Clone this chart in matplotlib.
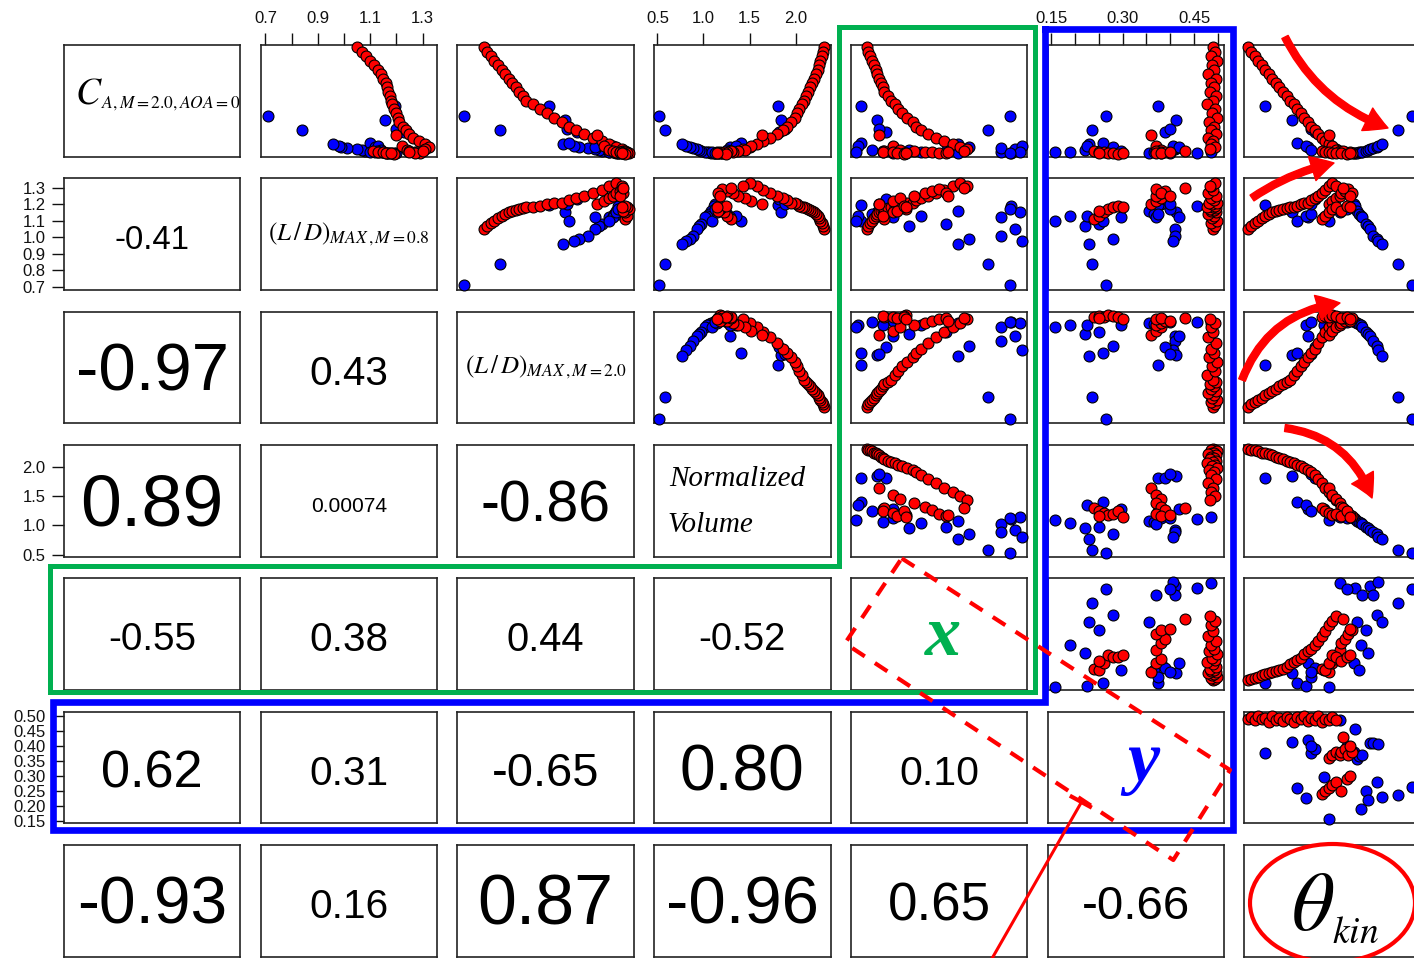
import matplotlib.pyplot as plt
from matplotlib.patches import Ellipse, FancyArrowPatch

plt.rcParams['font.family'] = ['Liberation Sans', 'DejaVu Sans']
plt.rcParams['mathtext.fontset'] = 'stix'

# ---- data ------------------------------------------------------------------
# CA, theta, LD20 and x have no axis in the picture: they are kept as panel
# fractions (0..1). LD08, volume and y are in their own units.

# red designs: main branch (y~0.49), then the y~0.38 group, then the y~0.27 group
red_theta = [.02, .04, .06, .08, .10, .12, .14, .16, .18, .20, .22, .24, .26,
             .28, .30, .32, .34, .36, .38, .40, .42, .44, .46, .48, .50, .52,
             .48, .50, .52, .54, .55, .57, .59, .61, .60, .56,
             .44, .46, .48, .50, .52, .55, .58, .60]
red_ca = [.98, .94, .90, .86, .82, .78, .74, .70, .66, .62, .58, .54, .50,
          .47, .43, .39, .35, .31, .27, .24, .20, .17, .14, .11, .09, .07,
          .19, .10, .06, .05, .04, .04, .03, .03, .04, .05,
          .05, .04, .04, .03, .03, .03, .02, .03]
red_ld08 = [1.05, 1.07, 1.085, 1.10, 1.115, 1.13, 1.14, 1.15, 1.16, 1.165,
            1.17, 1.175, 1.18, 1.185, 1.19, 1.20, 1.205, 1.21, 1.225, 1.235,
            1.25, 1.265, 1.285, 1.31, 1.325, 1.31,
            1.20, 1.22, 1.24, 1.25, 1.27, 1.28, 1.29, 1.27, 1.25, 1.30,
            1.11, 1.13, 1.15, 1.17, 1.18, 1.16, 1.19, 1.18]
red_ld20 = [.15, .17, .19, .21, .23, .25, .27, .29, .31, .33, .35, .37, .39,
            .43, .47, .51, .55, .59, .63, .67, .72, .77, .82, .86, .90, .93,
            .79, .83, .86, .88, .90, .92, .93, .94, .92, .94,
            .95, .96, .95, .97, .96, .94, .95, .93]
red_vol = [2.31, 2.30, 2.29, 2.27, 2.25, 2.24, 2.22, 2.20, 2.18, 2.16, 2.14,
           2.11, 2.09, 2.07, 2.04, 2.02, 1.99, 1.95, 1.91, 1.86, 1.80, 1.72,
           1.65, 1.58, 1.50, 1.43,
           1.64, 1.52, 1.45, 1.38, 1.32, 1.26, 1.20, 1.16, 1.18, 1.30,
           1.30, 1.25, 1.22, 1.18, 1.20, 1.16, 1.24, 1.15]
red_x = [.09, .10, .11, .12, .13, .14, .15, .16, .17, .18, .19, .21, .23,
         .25, .27, .29, .32, .35, .37, .40, .44, .48, .53, .58, .62, .66,
         .16, .24, .28, .36, .42, .46, .50, .54, .55, .64,
         .19, .18, .24, .31, .30, .26, .30, .31]
red_y = [.490, .495, .485, .498, .488, .493, .480, .497, .486, .491, .483,
         .496, .489, .478, .494, .487, .499, .482, .492, .485, .497, .480,
         .490, .486, .495, .484,
         .36, .37, .38, .37, .38, .39, .37, .38, .40, .43,
         .24, .25, .26, .27, .28, .25, .29, .30]

# blue designs: continuation past the CA minimum, then off-branch points
blue_theta = [.62, .63, .64, .65, .66, .67, .69, .70, .71, .73, .75, .76, .78,
              .87, .95,
              .12, .27, .30, .36, .35, .38, .45, .48, .54, .58, .40, .38]
blue_ca = [.030, .032, .035, .038, .040, .045, .055, .060, .065, .075, .085,
           .095, .11, .24, .36,
           .45, .33, .12, .09, .10, .06, .05, .04, .04, .035, .22, .25]
blue_ld08 = [1.20, 1.19, 1.16, 1.14, 1.13, 1.12, 1.08, 1.07, 1.05, 1.01, .99,
             .98, .96, .84, .71,
             1.195, 1.155, 1.10, 1.12, 1.13, 1.14, 1.125, 1.10, 1.15, 1.17,
             1.23, 1.20]
blue_ld20 = [.92, .91, .90, .89, .88, .86, .82, .80, .78, .74, .69, .66, .60,
             .24, .04,
             .52, .61, .63, .78, .88, .91, .88, .86, .90, .91, .68, .62]
blue_vol = [1.12, 1.11, 1.08, 1.06, 1.04, 1.02, .97, .95, .93, .89, .85, .81,
            .77, .58, .52,
            1.81, 1.84, 1.41, 1.29, 1.35, 1.25, 1.29, 1.09, 1.15, 1.12, 1.82,
            1.88]
blue_x = [.24, .91, .61, .18, .40, .85, .54, .33, .93, .85, .67, .97, .61,
          .78, .90,
          .06, .15, .06, .24, .04, .12, .18, .03, .96, .90, .20, .16]
blue_y = [.38, .457, .355, .365, .19, .37, .25, .22, .41, .41, .28, .405, .23,
          .236, .264,
          .375, .413, .258, .419, .225, .375, .297, .158, .485, .40, .39, .40]

red = [red_ca, red_ld08, red_ld20, red_vol, red_x, red_y, red_theta]
blue = [blue_ca, blue_ld08, blue_ld20, blue_vol, blue_x, blue_y, blue_theta]

limits = [(0, 1), (0.682, 1.356), (0, 1), (0.464, 2.38), (0, 1),
          (0.142, 0.513), (0, 1)]

ld08_ticks = [0.7, 0.8, 0.9, 1.0, 1.1, 1.2, 1.3]
vol_ticks = [0.5, 1.0, 1.5, 2.0]
y_ticks = [0.15, 0.20, 0.25, 0.30, 0.35, 0.40, 0.45, 0.50]
ld08_top = ['0.7', '', '0.9', '', '1.1', '', '1.3']
vol_top = ['0.5', '1.0', '1.5', '2.0']
y_top = ['0.15', '', '', '0.30', '', '', '0.45', '']
ld08_left = ['0.7', '0.8', '0.9', '1.0', '1.1', '1.2', '1.3']
y_left = ['0.15', '0.20', '0.25', '0.30', '0.35', '0.40', '0.45', '0.50']

corr = {(1, 0): '-0.41', (2, 0): '-0.97', (2, 1): '0.43',
        (3, 0): '0.89', (3, 1): '0.00074', (3, 2): '-0.86',
        (4, 0): '-0.55', (4, 1): '0.38', (4, 2): '0.44', (4, 3): '-0.52',
        (5, 0): '0.62', (5, 1): '0.31', (5, 2): '-0.65', (5, 3): '0.80',
        (5, 4): '0.10',
        (6, 0): '-0.93', (6, 1): '0.16', (6, 2): '0.87', (6, 3): '-0.96',
        (6, 4): '0.65', (6, 5): '-0.66'}
corr_size = {(1, 0): 23.7, (2, 0): 48.3, (2, 1): 29.2,
             (3, 0): 52.9, (3, 1): 15.1, (3, 2): 41,
             (4, 0): 27.8, (4, 1): 29.2, (4, 2): 28.8, (4, 3): 27.5,
             (5, 0): 37.7, (5, 1): 29.2, (5, 2): 33.8, (5, 3): 46.2,
             (5, 4): 29.6,
             (6, 0): 47.4, (6, 1): 29.2, (6, 2): 50.3, (6, 3): 48.3,
             (6, 4): 38.1, (6, 5): 34.1}

# ---- layout (pixels) ---------------------------------------------------------
W, H = 1414, 958
fig = plt.figure(figsize=(W / 100, H / 100), dpi=100)
pw, ph = 176.5, 111.7
lefts = [64 + 196.7 * k for k in range(7)]
tops = [45 + 133.33 * k for k in range(7)]

GREEN = '#00B050'
tick_kw = dict(length=8.4, width=1.0, pad=5, labelsize=12, direction='out',
               colors='#111111')

for i in range(7):
    for j in range(7):
        l, t = lefts[j], tops[i]
        ax = fig.add_axes([l / W, 1 - (t + ph) / H, pw / W, ph / H])
        ax.set_xlim(limits[j])
        ax.set_ylim(limits[i])
        ax.set_xticks([])
        ax.set_yticks([])
        for s in ax.spines.values():
            s.set_linewidth(1.2)
            s.set_color('#222222')

        if i < j:
            ax.scatter(blue[j], blue[i], s=62, c='#0000FF', edgecolors='black',
                       linewidths=0.8, clip_on=False, zorder=3)
            ax.scatter(red[j], red[i], s=62, c='#FF0000', edgecolors='black',
                       linewidths=0.8, clip_on=False, zorder=4)
        elif i > j:
            ax.text(0.5, 0.445, corr[(i, j)], transform=ax.transAxes,
                    ha='center', va='center', fontsize=corr_size[(i, j)])

        # top axes on columns 2, 4, 6 and left axes on rows 2, 4, 6
        if i == 0 and j in (1, 3, 5):
            ax.xaxis.tick_top()
            ticks, labs = {1: (ld08_ticks, ld08_top), 3: (vol_ticks, vol_top),
                           5: (y_ticks, y_top)}[j]
            ax.set_xticks(ticks)
            ax.set_xticklabels(labs)
            ax.tick_params(axis='x', **tick_kw)
        if j == 0 and i in (1, 3, 5):
            ticks, labs = {1: (ld08_ticks, ld08_left), 3: (vol_ticks, vol_top),
                           5: (y_ticks, y_left)}[i]
            ax.set_yticks(ticks)
            ax.set_yticklabels(labs)
            ax.tick_params(axis='y', **tick_kw)

        if i == j:
            if i == 0:
                ax.text(0.062, 0.48, r'$C$', transform=ax.transAxes,
                        ha='left', va='baseline', fontsize=27)
                ax.text(0.207, 0.436, r'$A,M=2.0,AOA=0$',
                        transform=ax.transAxes, ha='left', va='baseline',
                        fontsize=12.5)
            elif i == 1:
                ax.text(0.5, 0.5, r'$(L\,/\,D)_{MAX\,,M=0.8}$',
                        transform=ax.transAxes, ha='center', va='center',
                        fontsize=18)
            elif i == 2:
                ax.text(0.5, 0.5, r'$(L\,/\,D)_{MAX\,,M=2.0}$',
                        transform=ax.transAxes, ha='center', va='center',
                        fontsize=18)
            elif i == 3:
                ax.text(0.085, 0.70, 'Normalized', transform=ax.transAxes,
                        ha='left', va='center', fontsize=21,
                        family='Liberation Serif', style='italic')
                ax.text(0.075, 0.28, 'Volume', transform=ax.transAxes,
                        ha='left', va='center', fontsize=21,
                        family='Liberation Serif', style='italic')
            elif i == 4:
                ax.text(0.52, 0.31, 'x', transform=ax.transAxes, ha='center',
                        va='baseline', fontsize=52, color=GREEN,
                        family='Liberation Serif', style='italic', weight='bold')
            elif i == 5:
                ax.text(0.54, 0.38, 'y', transform=ax.transAxes, ha='center',
                        va='baseline', fontsize=52, color='#0000FF',
                        family='Liberation Serif', style='italic', weight='bold')
            else:
                ax.text(0.39, 0.24, r'$\theta$', transform=ax.transAxes,
                        ha='center', va='baseline', fontsize=60)
                ax.text(0.50, 0.12, r'$kin$', transform=ax.transAxes,
                        ha='left', va='baseline', fontsize=27)

# ---- hand-drawn highlights on top (pixel coordinates) -------------------------
ov = fig.add_axes([0, 0, 1, 1], zorder=10)
ov.set_xlim(0, W)
ov.set_ylim(H, 0)
ov.axis('off')

ov.plot([838.5, 1035, 1035, 50, 50, 838.5, 838.5],
        [27, 27, 691.5, 691.5, 566, 566, 27],
        color=GREEN, lw=3.6, solid_joinstyle='miter')
ov.plot([1045, 1233, 1233, 53, 53, 1045, 1045],
        [28.5, 28.5, 830, 830, 702, 702, 28.5],
        color='#0000FF', lw=4.8, solid_joinstyle='miter')

ov.plot([901.7, 1230, 1173.3, 845, 901.7], [558.3, 770, 860, 643.3, 558.3],
        color='red', lw=3, linestyle=(0, (3.6, 2.9)))
ov.plot([1081.7, 990], [801.7, 962], color='red', lw=2.2)
ov.plot([1071.7, 1090], [796.7, 806.7], color='red', lw=3)

ov.add_patch(Ellipse((1332.5, 903), 165, 118, fill=False, ec='red', lw=3))

arrows = [((1285, 37), (1388, 128), 0.2),
          ((1252, 198), (1334, 163), -0.1),
          ((1242, 380), (1340, 303), -0.3),
          ((1285, 428), (1372, 498), -0.3)]
for a, b, rad in arrows:
    ov.add_patch(FancyArrowPatch(
        a, b, connectionstyle=f'arc3,rad={rad}',
        arrowstyle='simple,head_length=0.9,head_width=1.0,tail_width=0.28',
        mutation_scale=18, color='red', shrinkA=0, shrinkB=0))

fig.savefig('out.png', dpi=100)
